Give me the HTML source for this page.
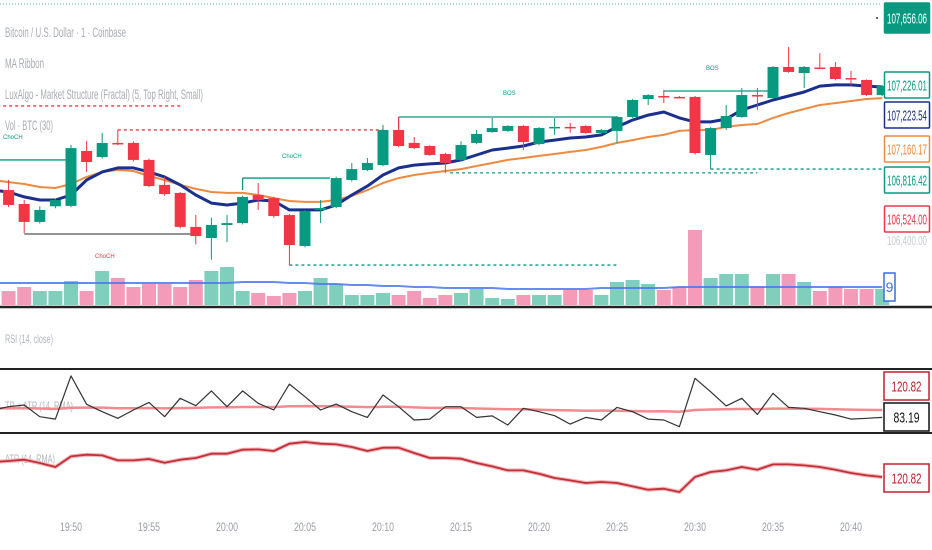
<!DOCTYPE html>
<html><head><meta charset="utf-8"><style>
html,body{margin:0;padding:0;background:#fff;width:932px;height:550px;overflow:hidden}
svg{display:block}
text{font-family:"Liberation Sans Narrow","Liberation Sans",sans-serif}
</style></head><body>
<svg id="chart" width="932" height="550" viewBox="0 0 932 550"></svg>
<script>
// ---- data (index -5..52, one-minute candles; index 0 = 19:50) ----
const startIndex = -4;
const opens  = [106675,106602,106508,106590,106592,106880,106848,106922,106922,106833,106702,106660,106482,106424,106492,106502,106649,106633,106544,106382,106571,106586,106728,106780,106806,106990,106922,106906,106864,106833,106922,106979,106985,107011,106916,107003,107006,107011,106974,106985,107058,107152,107168,107163,107163,106859,107000,107058,107173,107157,107320,107288,107317,107320,107262,107252,107173];
const closes = [106597,106508,106571,106623,106895,106822,106922,106917,106833,106696,106654,106482,106434,106492,106502,106639,106623,106539,106387,106565,106581,106738,106785,106817,106990,106906,106895,106859,106817,106911,106969,107000,107011,106927,107000,107006,107003,106974,106990,107058,107147,107173,107160,107160,106869,107000,107063,107173,107170,107320,107294,107320,107315,107257,107258,107173,107220];
const highs  = [106728,106623,106590,106630,106911,106932,106974,106990,106930,106840,106745,106665,106545,106530,106545,106645,106712,106640,106550,106570,106623,106745,106817,106843,107016,107058,106953,106910,106870,106930,106990,107053,107015,107015,107005,107053,107027,107015,106995,107063,107152,107178,107200,107168,107168,107005,107121,107210,107210,107325,107425,107325,107393,107346,107300,107255,107226];
const lows   = [106586,106450,106500,106580,106585,106770,106840,106910,106825,106690,106645,106475,106390,106310,106403,106495,106571,106530,106283,106375,106502,106580,106720,106775,106800,106900,106890,106855,106765,106827,106915,106975,106980,106885,106910,106964,106975,106970,106968,106922,107053,107121,107131,107155,106860,106785,106990,107053,107095,107152,107290,107210,107310,107250,107225,107168,107168];
const volumes = [14,18,14,14,24,14,34,27,18,21,21,18,25,34,38,14,12,9,12,14,27,21,10,10,12,10,14,7,10,12,16,7,6,10,10,10,15,15,10,23,25,21,15,18,75,27,31,31,18,31,31,23,14,18,16,16,16];
// index -5..52
const maStart = -5;
const maFast = [106675,106665,106639,106623,106623,106649,106728,106770,106791,106791,106770,106744,106702,106649,106607,106597,106607,106623,106618,106571,106571,106571,106597,106649,106696,106754,106791,106806,106812,106817,106833,106859,106885,106895,106906,106927,106937,106948,106953,106964,107006,107042,107068,107084,107053,107032,107032,107047,107095,107121,107147,107168,107189,107220,107226,107226,107220,107215];
const maSlow = [106728,106717,106707,106691,106686,106707,106744,106770,106780,106775,106749,106728,106702,106681,106665,106660,106660,106649,106633,106618,106613,106613,106623,106644,106675,106712,106738,106754,106765,106775,106785,106801,106817,106833,106843,106854,106864,106875,106885,106901,106922,106937,106953,106964,106985,106990,106990,107006,107016,107021,107053,107079,107100,107121,107131,107142,107152,107157];
const volMA = [22,22,22,22,22,22,22,22,22,22,22,22,22,22,22,22,23,23,23,22,22,21,21,20,20,19,19,18,18,17,17,17,17,16,16,16,16,16,16,17,17,17,17,17,18,18,18,18,18,18,18,18,18,18,18,18,18,18];
const trueRange = [121,139,148,85,72,305,152,112,76,121,162,85,184,144,224,139,224,157,121,261,193,121,153,112,81,202,139,67,72,139,139,81,89,40,130,112,90,45,81,67,135,112,72,67,31,292,220,143,184,97,211,135,130,112,94,72,76,81];
const atr = [129.8,130.4,131.2,129.2,126.8,133.2,134.2,133.8,130.8,130.8,131.6,129.4,131.2,132.2,134.8,134.8,137.2,137.4,136.4,140.8,141.8,140.8,140.4,138.8,136.4,138.4,138.4,135.2,132.2,132.2,131.8,129.2,127.2,124.8,124.8,122.8,120.2,118.8,117.2,117.8,117.2,115.2,113.2,113.8,111.8,120.8,123.8,124.8,126.8,125.2,128.4,128.4,127.8,126.8,125.2,123.2,121.8,120.8];
const timeLabels = ["19:50","19:55","20:00","20:05","20:10","20:15","20:20","20:25","20:30","20:35","20:40"];
const priceLabels = [["107,656.06",107656,"#089981",true],["107,226.01",107226,"#089981",false],["107,223.54",107210,"#1a2f8a",false],["107,160.17",107160,"#f08a3a",false],["106,816.42",106816,"#089981",false],["106,524.00",106524,"#f23645",false]];

// ---- axis functions ----
const X = i => 71 + i*15.6;
const Y = p => (107671 - p)/5.24;
const VY = v => 305 - v;
const TRY = v => 417 - (v-83.19)/5.4;
const AY = v => 477 - (v-120.82)/0.6;

const svg = document.getElementById('chart');
const NS = 'http://www.w3.org/2000/svg';
function mk(tag, attrs, parent){const e=document.createElementNS(NS,tag);for(const k in attrs)e.setAttribute(k,attrs[k]);(parent||svg).appendChild(e);return e;}
function txt(s,x,y,size,fill,parent,anchor){const t=mk('text',{x:x,y:y,'font-size':size,fill:fill,'text-anchor':anchor||'start'},parent);t.textContent=s;return t;}

let e;
e = mk('line',{x1:0,y1:4,x2:880,y2:4,stroke:'#4fb3a0','stroke-width':1,'stroke-dasharray':'1,2'});



// volume bars
const gVol = mk('g',{});


volumes.forEach((v,k)=>{const i=startIndex+k;const up=closes[k]>=opens[k];
  const r=mk('rect',{x:X(i)-7,y:VY(v),width:14,height:v,fill:up?'#80cfbd':'#f39bb8'},gVol);
  
  
});
e = mk('path',{d:volMA.map((v,k)=>(k?'L':'M')+X(maStart+k).toFixed(1)+','+VY(v).toFixed(1)).join(''),fill:'none',stroke:'#4a78ec','stroke-width':2,opacity:0.85});



function seg(i1,p1,i2,dash,color,name){const l=mk('line',{x1:X(i1),y1:Y(p1),x2:X(i2),y2:Y(p1),stroke:color,'stroke-width':1.3,'stroke-dasharray':dash||''});
  }
seg(-5.5,106833,0,'', '#089981','choch-level-1');
seg(-5.5,107116,7,'3,3','#f23645','red-dashed-level-1');
seg(3,106990,20,'3,3','#f23645','red-dashed-level-2');
seg(-3,106445,8,'','#555','swing-low-level');
seg(11,106738,16.6,'','#089981','choch-level-2');
seg(14,106282,35,'3,3','#089981','teal-dotted-level-1');
seg(21,107058,35,'','#089981','bos-level-1');
seg(38,107194,45,'','#089981','bos-level-2');
seg(24.3,106765,44,'3,3','#089981','teal-dotted-level-2');
seg(41,106785,52.5,'3,3','#089981','teal-dotted-level-3');
mk('line',{x1:X(11),y1:Y(106738),x2:X(11),y2:Y(106675),stroke:'#089981','stroke-width':1.3});
mk('line',{x1:X(21),y1:Y(107058),x2:X(21),y2:Y(106990),stroke:'#089981','stroke-width':1.3});
[['ChoCH',3,139,'#089981'],['ChoCH',282,158,'#089981'],['ChoCH',95,258,'#f23645'],['BOS',503,95,'#089981'],['BOS',706,70,'#089981']].forEach(a=>{
  const t=txt(a[0],a[1],a[2],6,a[3]);});

function line(arr,start,fy,color,w,name){const p=mk('path',{d:arr.map((v,k)=>(k?'L':'M')+X(start+k).toFixed(1)+','+fy(v).toFixed(1)).join(''),fill:'none',stroke:color,'stroke-width':w,'stroke-linejoin':'round'});
  return p;}
line(maSlow,maStart,Y,'#ee8a40',2,'ma-slow-line');
line(maFast,maStart,Y,'#1b2f8c',3,'ma-fast-line');

const gC = mk('g',{});


opens.forEach((o,k)=>{const i=startIndex+k,c=closes[k],up=c>=o,col=up?'#089981':'#f23645';
  const g=mk('g',{},gC);
  
  
  mk('line',{x1:X(i),x2:X(i),y1:Y(highs[k]),y2:Y(lows[k]),stroke:col,'stroke-width':1},g);
  const top=Y(Math.max(o,c)),h=Math.max(1.5,Math.abs(Y(o)-Y(c)));
  mk('rect',{x:X(i)-5.5,y:top,width:11,height:h,fill:col},g);
});

[['Bitcoin / U.S. Dollar · 1 · Coinbase',5,37,121],['MA Ribbon',5,68,39],['LuxAlgo - Market Structure (Fractal) (5, Top Right, Small)',5,99,198],['Vol · BTC (30)',5,130,48]].forEach((a,n)=>{
  const t=txt(a[0],a[1],a[2],14,'#a9acb4');t.setAttribute('textLength',a[3]);t.setAttribute('lengthAdjust','spacingAndGlyphs');
  });

mk('circle',{cx:877,cy:18,r:1,fill:'#333'});
priceLabels.forEach((a,n)=>{const y=n===0?18:[85,115,149,180,219][n-1];
  const g=mk('g',{});
  mk('rect',{x:884.5,y:y-(n===0?15:13),width:45,height:n===0?30:26,fill:a[3]?a[2]:'#fff',stroke:a[2],'stroke-width':1.5,rx:1},g);
  const t=txt(a[0],907,y+5.5,15,a[3]?'#fff':a[2],g,'middle');t.setAttribute('textLength',40);t.setAttribute('lengthAdjust','spacingAndGlyphs');});
e=txt('106,400.00',907,245,13,'#c8cad0',null,'middle');e.setAttribute('textLength',40);e.setAttribute('lengthAdjust','spacingAndGlyphs');

e=mk('rect',{x:884,y:273,width:11,height:28,fill:'#fff',stroke:'#3b6fe0','stroke-width':1.5});

txt('9',889.5,292,14,'#3b6fe0',null,'middle');

[[307,2.5],[369,2],[433,2]].forEach(a=>{const l=mk('line',{x1:0,x2:932,y1:a[0],y2:a[0],stroke:'#222','stroke-width':a[1]});
  });

e=txt('RSI (14, close)',5,343,12,'#b2b5be');e.setAttribute('textLength',48);e.setAttribute('lengthAdjust','spacingAndGlyphs');


e=txt('TR + ATR (14, RMA)',5,410,12,'#b2b5be');e.setAttribute('textLength',68);e.setAttribute('lengthAdjust','spacingAndGlyphs');

line(atr,maStart,TRY,'#f28a90',2.5,'atr-line-tr-pane');
line(trueRange,maStart,TRY,'#333',1.2,'true-range-line');
e=mk('rect',{x:884,y:372,width:45,height:28,fill:'#fff',stroke:'#c2202f','stroke-width':1.5});

e=txt('120.82',906.5,391.5,15,'#c2202f',null,'middle');e.setAttribute('textLength',30);e.setAttribute('lengthAdjust','spacingAndGlyphs');
e=mk('rect',{x:884,y:403,width:45,height:28,fill:'#fff',stroke:'#111','stroke-width':1.5});

e=txt('83.19',906.5,422.5,15,'#111',null,'middle');e.setAttribute('textLength',26);e.setAttribute('lengthAdjust','spacingAndGlyphs');

e=txt('ATR (14, RMA)',5,463,12,'#b2b5be');e.setAttribute('textLength',50);e.setAttribute('lengthAdjust','spacingAndGlyphs');

line(atr,maStart,AY,'#f5b5b8',4,'atr-line-halo');
line(atr,maStart,AY,'#c0303a',1.8,'atr-line');
e=mk('rect',{x:884,y:464,width:45,height:28,fill:'#fff',stroke:'#c2202f','stroke-width':1.5});

e=txt('120.82',906.5,483.5,15,'#c2202f',null,'middle');e.setAttribute('textLength',30);e.setAttribute('lengthAdjust','spacingAndGlyphs');

timeLabels.forEach((s,n)=>{const t=txt(s,X(n*5),531,12,'#9a9da6',null,'middle');
  t.setAttribute('textLength',22);t.setAttribute('lengthAdjust','spacingAndGlyphs');
  
  });
</script>
</body></html>
